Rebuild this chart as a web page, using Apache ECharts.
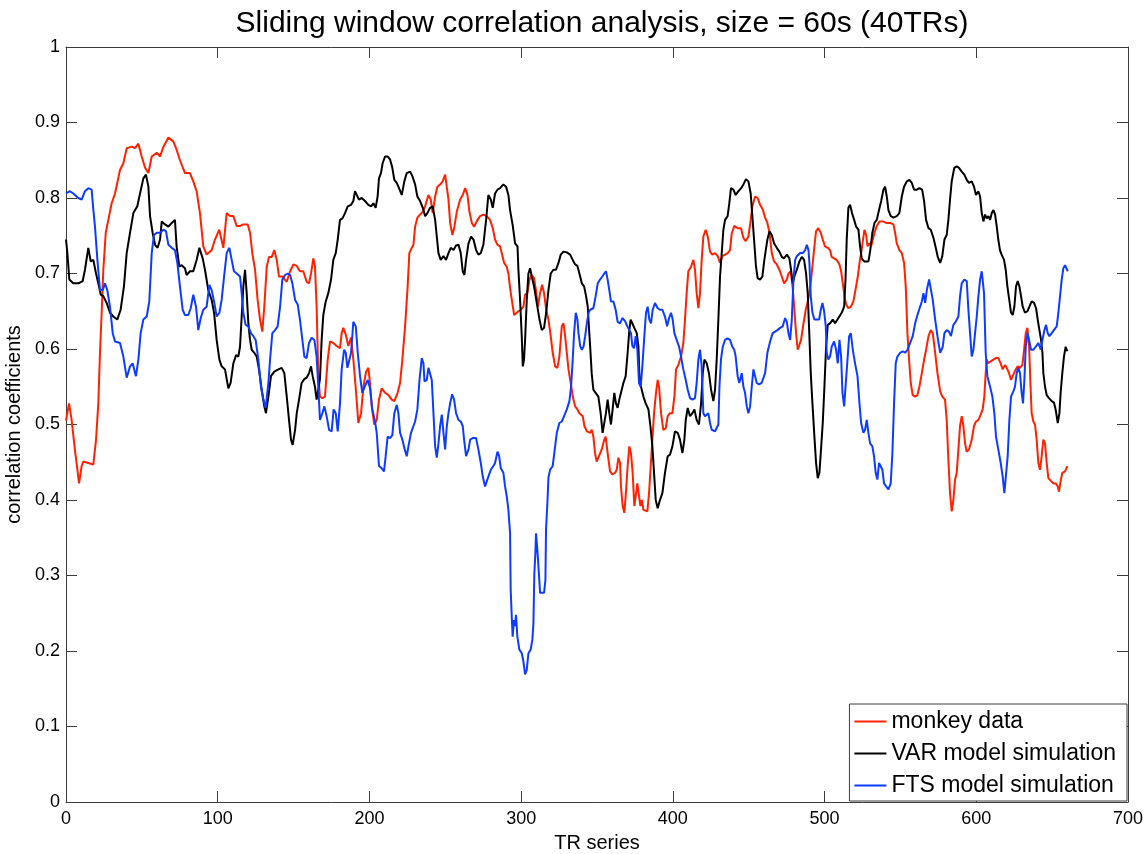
<!DOCTYPE html>
<html>
<head>
<meta charset="utf-8">
<title>Sliding window correlation analysis</title>
<script src="https://cdn.jsdelivr.net/npm/echarts@6/dist/echarts.min.js"></script>
<style>
  html, body { margin: 0; padding: 0; background: #fff; }
  #chart { width: 1148px; height: 854px; }
</style>
</head>
<body>
<div id="chart"></div>
<script>
// Sliding-window correlation coefficients, [TR, r] pairs for each series.
const monkey = [
[0,0.505],[2,0.528],[3.7,0.506],[5.9,0.466],[8.6,0.422],[10.3,0.445],[11.4,0.451],[14.7,0.449],[18,0.447],[19.8,0.48],[21.3,0.528],[22.4,0.595],[23.5,0.648],[24.6,0.705],[26.2,0.754],[27.9,0.771],[30.1,0.793],[32.3,0.806],[35.6,0.837],[37.8,0.846],[40,0.866],[43.3,0.868],[45.5,0.866],[47.7,0.872],[49.9,0.855],[52.1,0.84],[54.3,0.833],[56.5,0.855],[59.8,0.86],[62,0.855],[64.2,0.868],[67.5,0.88],[70.7,0.875],[72.9,0.864],[75.1,0.85],[78.4,0.833],[81.7,0.833],[83.9,0.822],[86.1,0.809],[88.3,0.78],[90.5,0.736],[92.7,0.725],[96,0.731],[98.2,0.745],[101,0.758],[103.7,0.734],[105.9,0.78],[108.1,0.776],[110.3,0.776],[112.5,0.763],[114.7,0.763],
[116.9,0.765],[119.8,0.765],[121.3,0.754],[122.8,0.727],[124.6,0.705],[126.3,0.665],[127.9,0.639],[129.4,0.623],[130.7,0.656],[132.3,0.709],[133.8,0.722],[135.6,0.722],[137.3,0.731],[138.9,0.718],[140.4,0.696],[142.6,0.696],[145.5,0.689],[147.7,0.703],[149.9,0.712],[152.1,0.71],[154.2,0.703],[156.4,0.703],[158.6,0.689],[160.2,0.687],[161.5,0.7],[163,0.72],[164.1,0.71],[165.2,0.656],[166.3,0.564],[167.4,0.537],[169,0.535],[170.7,0.537],[172.5,0.586],[174,0.61],[176.2,0.608],[178.4,0.604],[180.6,0.601],[181.7,0.621],[182.8,0.628],[184.4,0.619],[186.1,0.604],[187.9,0.615],[189.4,0.586],[190.9,0.55],[192.7,0.502],[194.5,0.515],[196,0.55],[197.8,0.57],[199.3,0.575],[200.4,0.555],[201.5,0.524],[203.2,0.5],[204.8,0.506],[206.3,0.533],[208.1,0.548],[210.3,0.542],[212.5,0.539],[214.7,0.533],[216.4,0.531],[218.6,0.542],[220.2,0.555],[221.7,0.586],[223.5,0.63],[225.2,0.683],[226.3,0.727],[227.9,0.734],[229,0.738],[230.1,0.762],
[231.6,0.774],[233.4,0.778],[235.2,0.782],[236.7,0.789],[238.9,0.804],[240.4,0.798],[241.7,0.78],[243.3,0.802],[244.8,0.815],[246.6,0.818],[248.3,0.822],[249.9,0.831],[251,0.829],[252.1,0.798],[253.2,0.767],[254.7,0.751],[256,0.762],[257.6,0.782],[259.8,0.798],[261.5,0.804],[263.1,0.813],[264.6,0.804],[265.9,0.782],[267.5,0.767],[269,0.762],[270.7,0.769],[272.9,0.776],[275.1,0.778],[277.3,0.776],[279.5,0.771],[281.3,0.76],[282.8,0.745],[284.4,0.738],[286.1,0.736],[287.2,0.727],[288.8,0.714],[290.5,0.709],[291.6,0.7],[292.7,0.681],[294,0.663],[295.4,0.645],[296.7,0.643],[298.2,0.65],[299.8,0.652],[301.5,0.656],[302.6,0.672],[304.1,0.674],[305.5,0.692],[307,0.698],[308.5,0.694],[309.9,0.676],[311,0.656],[312.5,0.674],[313.8,0.685],[315.1,0.674],[316.5,0.652],[318,0.639],[319.5,0.617],[320.8,0.595],[322.4,0.577],[323.9,0.575],[325.2,0.59],[326.8,0.63],[327.9,0.634],[329,0.617],[330.1,0.595],[331.2,0.573],[332.7,0.555],[334,0.537],[335.6,0.524],[337.1,0.52],[338.4,0.515],[339.3,0.517],[340.6,0.511],[341.7,0.498],[343.3,0.491],[345.5,0.489],
[346.5,0.493],[347.6,0.484],[348.7,0.462],[349.8,0.451],[351.3,0.458],[353.1,0.467],[354.8,0.48],[355.7,0.484],[357,0.462],[358.6,0.438],[360.1,0.434],[361.9,0.436],[363,0.44],[364.1,0.456],[365.2,0.449],[365.8,0.418],[366.9,0.392],[368,0.383],[368.9,0.405],[370.2,0.445],[371.3,0.471],[372.4,0.462],[373.5,0.436],[374.6,0.392],[375.5,0.405],[376.6,0.422],[377.7,0.405],[378.6,0.392],[379.5,0.4],[380.6,0.387],[381.7,0.385],[383.2,0.385],[384.3,0.409],[385.4,0.445],[386.5,0.48],[387.6,0.515],[388.9,0.542],[390,0.559],[390.9,0.55],[392.2,0.515],[393.7,0.493],[395.3,0.495],[396.6,0.511],[398.1,0.515],[399.7,0.515],[401,0.537],[402.1,0.573],[403.6,0.579],[405.4,0.59],[406.9,0.608],[408,0.639],[409.1,0.674],[410.2,0.703],[412,0.709],[413.5,0.718],[414.6,0.705],[415.7,0.674],[416.8,0.654],[417.9,0.674],[419,0.718],[420.1,0.749],[421.6,0.758],[423,0.749],[424.5,0.729],[426,0.725],[427.8,0.727],[429.6,0.723],[431.1,0.714],[432.6,0.723],[434.4,0.725],[436.1,0.727],[437.7,0.731],[438.8,0.753],[440.5,0.763],[442.7,0.76],[444.9,0.76],[446.5,0.747],[448,0.743],[449.8,0.749],[451.3,0.771],[452.4,0.789],[454.2,0.802],[455.9,0.8],[457.5,0.791],[459.2,0.785],[460.8,0.774],
[462.3,0.767],[463.7,0.754],[465.2,0.727],[466.7,0.716],[468.5,0.712],[470.2,0.705],[471.8,0.696],[473.3,0.687],[475.1,0.692],[476.2,0.7],[477.7,0.703],[479,0.681],[480.1,0.652],[481.2,0.621],[482.3,0.599],[483.4,0.597],[484.5,0.612],[486.1,0.634],[487.6,0.652],[488.9,0.663],[490,0.674],[491.1,0.692],[492.2,0.714],[493.3,0.736],[494.4,0.756],[495.9,0.76],[497.5,0.754],[498.8,0.745],[500.3,0.736],[502.1,0.734],[503.6,0.731],[504.7,0.722],[506.3,0.72],[508,0.718],[509.8,0.712],[510.9,0.703],[512,0.687],[513.1,0.67],[514.2,0.659],[515.7,0.654],[517.3,0.656],[519,0.663],[520.6,0.681],[521.9,0.696],[523,0.714],[524.1,0.727],[525.2,0.743],[526.3,0.758],[527.4,0.751],[528.3,0.736],[529.4,0.74],[530.7,0.736],[531.8,0.745],[532.9,0.754],[534.4,0.763],[536.2,0.769],[538.4,0.769],[540.6,0.767],[543.2,0.767],[545.4,0.765],[546.5,0.754],[547.6,0.74],[549.3,0.731],[550.9,0.727],[552.4,0.714],[553.5,0.683],[554.6,0.621],[555.7,0.586],[556.8,0.555],[558.1,0.539],[559.7,0.537],[561.2,0.539],[562.5,0.55],[564.1,0.568],[565.6,0.586],[566.9,0.599],[568.5,0.617],[570,0.625],[571.3,0.621],[572.9,0.595],[574.4,0.568],[576.2,0.544],
[577.6,0.537],[579.4,0.533],[580.5,0.506],[581.6,0.453],[582.7,0.409],[583.8,0.385],[584.9,0.4],[586,0.427],[587.1,0.436],[588.2,0.467],[589.3,0.498],[590.4,0.511],[591.5,0.498],[592.6,0.475],[593.7,0.464],[595.2,0.467],[597,0.48],[598.5,0.498],[599.8,0.504],[601.4,0.506],[602.9,0.513],[604.2,0.52],[605.3,0.537],[606.2,0.568],[606.9,0.586],[608,0.581],[609.7,0.584],[611.3,0.586],[612.8,0.588],[614.5,0.588],[616.1,0.581],[617.4,0.573],[619,0.579],[620.5,0.573],[621.6,0.568],[622.9,0.559],[624.4,0.566],[626,0.573],[627.3,0.577],[628.8,0.575],[630.4,0.579],[631.5,0.599],[632.6,0.621],[633.7,0.628],[634.8,0.604],[635.6,0.559],[636.5,0.515],[637.6,0.504],[638.7,0.5],[639.8,0.48],[640.9,0.449],[642,0.44],[643.1,0.458],[644.2,0.48],[645.3,0.475],[646.4,0.449],[647.5,0.429],[649.3,0.425],[650.8,0.422],[652.3,0.422],[653.7,0.418],[654.5,0.411],[655.6,0.425],[656.7,0.436],[658.5,0.438],[660,0.445]
];

const varModel = [
[0,0.745],[0.9,0.727],[2.2,0.692],[4.8,0.687],[8.1,0.687],[11,0.69],[12.5,0.705],[14.7,0.734],[16.3,0.716],[18,0.718],[19.8,0.7],[21.3,0.687],[22.9,0.672],[24.6,0.67],[26.8,0.661],[29,0.648],[31.2,0.643],[33.8,0.639],[36,0.652],[38.2,0.683],[40,0.727],[42.2,0.754],[44.4,0.78],[47,0.789],[48.8,0.806],[51,0.826],[52.7,0.831],[54.3,0.815],[55.4,0.776],[57.1,0.754],[58.7,0.738],[60.4,0.734],[62,0.745],[63.1,0.769],[65.3,0.765],[67.5,0.762],[69.7,0.767],[71.8,0.771],[72.9,0.736],[74.7,0.709],[76.2,0.711],[78.4,0.707],[79.5,0.698],[81.7,0.703],[83.9,0.703],[86.1,0.718],[87.9,0.734],[90.1,0.72],[91.6,0.705],[93.8,0.678],[96,0.665],[97.6,0.648],[99.3,0.612],[101.1,0.586],[102.6,0.577],[104.8,0.573],[107,0.548],[108.5,0.555],[110.3,0.581],[112.1,0.592],[113.6,0.59],[114.7,0.603],
[115.8,0.643],[116.9,0.683],[118,0.705],[119.1,0.674],[120.2,0.634],[121.3,0.612],[122.4,0.599],[124.1,0.595],[125.7,0.59],[127.2,0.573],[129,0.546],[130.7,0.524],[131.8,0.515],[133.4,0.537],[135.1,0.564],[137.3,0.57],[140,0.573],[142.2,0.575],[143.9,0.568],[145.5,0.537],[147,0.506],[148.3,0.48],[149.4,0.473],[151,0.493],[152.1,0.515],[153.6,0.533],[155.3,0.555],[157.1,0.56],[158.6,0.562],[160.2,0.568],[161.5,0.577],[162.6,0.564],[164.1,0.55],[165.2,0.533],[166.3,0.531],[167.4,0.56],[168.5,0.612],[169.6,0.645],[171.2,0.663],[172.9,0.674],[174.7,0.692],[176.2,0.718],[177.8,0.727],[179.1,0.745],[180.6,0.771],[182.2,0.773],[183.9,0.78],[185.7,0.789],[187.9,0.791],[189.4,0.796],[190.5,0.809],[191.6,0.807],[193.1,0.798],[194.9,0.8],[197.1,0.796],[199.3,0.791],[201.1,0.789],[202.6,0.793],[204.1,0.787],[205.4,0.802],[206.3,0.826],[207.6,0.833],[208.7,0.846],[210.3,0.855],[212,0.855],[213.6,0.851],[215.1,0.84],[216.4,0.824],[218,0.82],[219.5,0.813],[221.3,0.804],[223,0.822],[224.6,0.833],[226.8,0.835],[228.3,0.829],[230.1,0.818],
[231.6,0.802],[233.4,0.796],[235.2,0.787],[236.7,0.776],[238.2,0.78],[240,0.787],[241.7,0.789],[243.3,0.771],[244.4,0.749],[245.5,0.727],[247,0.718],[248.8,0.723],[250.5,0.718],[252.1,0.727],[253.6,0.734],[255.4,0.731],[257.1,0.737],[258.7,0.738],[260.2,0.727],[261.5,0.703],[262.6,0.698],[263.7,0.718],[265.3,0.74],[267,0.749],[268.6,0.745],[270.3,0.731],[271.8,0.725],[273.4,0.727],[275.1,0.738],[276.9,0.771],[278.4,0.804],[280,0.798],[281.3,0.787],[282.8,0.806],[284.4,0.811],[286.1,0.813],[288.3,0.818],[290.1,0.815],[291.6,0.804],[292.7,0.784],[294.5,0.763],[296,0.74],[297.6,0.736],[298.2,0.705],[299.3,0.665],[300.4,0.617],[301.1,0.577],[301.9,0.586],[302.6,0.612],[303.7,0.665],[304.8,0.7],[305.9,0.707],[307,0.696],[308.5,0.683],[310.3,0.661],[312.1,0.639],[313.6,0.625],[315.1,0.628],[316.5,0.648],[318,0.678],[319.5,0.7],[321.3,0.705],[323,0.705],[324.6,0.714],[326.1,0.725],[327.9,0.729],[330.1,0.728],[332.3,0.725],[334,0.718],[335.6,0.712],[337.1,0.71],[338.4,0.7],[340,0.687],[341.5,0.683],[342.8,0.67],[343.9,0.656],[344.8,0.625],[345.5,0.603],
[346.5,0.568],[347.6,0.546],[349.1,0.542],[350.9,0.537],[352.4,0.515],[353.7,0.489],[354.8,0.491],[355.9,0.515],[357,0.533],[358.1,0.515],[359.2,0.5],[360.3,0.52],[361.4,0.542],[362.5,0.528],[363.6,0.522],[364.7,0.533],[365.8,0.542],[367.4,0.555],[368.9,0.564],[370.2,0.595],[371.3,0.625],[372.2,0.639],[373.3,0.634],[374.6,0.628],[376.2,0.621],[377.3,0.603],[377.9,0.568],[379,0.55],[380.6,0.537],[382.1,0.528],[383.9,0.52],[385.2,0.498],[386.5,0.471],[387.6,0.436],[388.7,0.4],[390,0.389],[391.5,0.4],[393.1,0.409],[394.8,0.436],[396.6,0.458],[398.1,0.46],[399.7,0.471],[401.4,0.491],[403.2,0.489],[404.7,0.48],[406.3,0.462],[407.6,0.48],[408.5,0.506],[409.8,0.522],[411.3,0.511],[412.9,0.515],[414.2,0.52],[415.7,0.506],[417.2,0.5],[418.6,0.528],[419.7,0.568],[420.8,0.586],[422.3,0.581],[423.8,0.568],[425.2,0.546],[426.7,0.531],[427.8,0.546],[428.9,0.586],[430,0.639],[431.1,0.696],[432.2,0.727],[433.3,0.758],[434.4,0.771],[436.1,0.776],[437.2,0.793],[438.3,0.813],[439.9,0.811],[441.4,0.804],[443.2,0.809],[445,0.813],[446.5,0.818],[448.2,0.825],[449.8,0.822],[451.3,0.806],[452.4,0.776],[453.7,0.74],[454.8,0.709],[455.9,0.694],[457.5,0.692],[459,0.696],[460.3,0.718],
[462.3,0.745],[463.7,0.756],[465.2,0.751],[466.7,0.74],[468.5,0.734],[470.2,0.729],[471.8,0.722],[473.3,0.72],[475.1,0.725],[476.8,0.72],[477.9,0.705],[479,0.687],[480.1,0.696],[481.7,0.705],[483.4,0.716],[485,0.722],[486.5,0.718],[487.8,0.7],[488.9,0.674],[490,0.617],[490.9,0.568],[492,0.528],[493.3,0.484],[494.4,0.449],[495.5,0.429],[496.6,0.436],[497.5,0.462],[498.8,0.502],[499.9,0.55],[501,0.603],[502.1,0.632],[503.6,0.634],[505.4,0.639],[506.9,0.634],[508.5,0.639],[509.8,0.641],[511.3,0.648],[512.9,0.656],[513.8,0.692],[514.6,0.745],[515.7,0.787],[516.8,0.791],[518.1,0.78],[519.5,0.771],[520.8,0.762],[522.3,0.758],[523.4,0.736],[524.5,0.72],[526.1,0.716],[527.4,0.714],[528.9,0.716],[530,0.729],[531.5,0.754],[532.9,0.767],[534.4,0.771],[535.9,0.784],[537.3,0.796],[538.8,0.811],[539.9,0.815],[541,0.802],[542.1,0.784],[543.6,0.776],[545.4,0.774],[547.6,0.776],[549.3,0.78],[550.9,0.802],[552.4,0.815],[554.2,0.822],[555.9,0.824],[557.5,0.82],[559,0.811],[560.8,0.811],[562.5,0.813],[564.3,0.811],[565.6,0.796],[566.9,0.771],[568.5,0.76],[570,0.758],[571.8,0.747],[573.3,0.734],[574.6,0.722],[576.2,0.714],
[577.6,0.723],[579,0.745],[580.5,0.751],[581.6,0.771],[582.7,0.798],[583.8,0.822],[585.5,0.84],[587.1,0.842],[588.6,0.84],[590.4,0.835],[592.1,0.831],[593.7,0.824],[595.2,0.82],[597,0.822],[598.5,0.815],[599.8,0.804],[601.4,0.809],[602.5,0.802],[603.6,0.78],[604.7,0.769],[605.8,0.778],[606.9,0.773],[608,0.776],[609.1,0.771],[610.2,0.78],[611.3,0.784],[612.4,0.778],[613.5,0.762],[614.5,0.745],[615.6,0.731],[616.7,0.725],[618.3,0.718],[619.4,0.705],[620.5,0.683],[621.6,0.667],[622.9,0.648],[624,0.645],[625.1,0.656],[626.2,0.683],[627.3,0.69],[628.4,0.683],[629.5,0.67],[630.6,0.656],[632.1,0.648],[633.7,0.65],[635,0.656],[636.5,0.663],[638.1,0.661],[639.4,0.654],[640.5,0.639],[641.6,0.625],[642.7,0.612],[643.6,0.595],[644.2,0.568],[645.3,0.55],[646.4,0.539],[647.9,0.535],[649.7,0.531],[651.2,0.529],[652.3,0.52],[653.7,0.502],[654.8,0.515],[655.6,0.542],[656.7,0.568],[657.8,0.59],[658.9,0.603],[660,0.597]
];

const ftsModel = [
[0,0.806],[2.6,0.809],[4.8,0.806],[8.1,0.8],[10.3,0.798],[12.5,0.809],[14.7,0.813],[16.9,0.811],[18,0.785],[19.1,0.762],[20.7,0.718],[22.4,0.678],[24.2,0.678],[25.7,0.687],[27.2,0.678],[29,0.656],[30.8,0.621],[32.3,0.61],[35.6,0.608],[37.8,0.59],[40,0.562],[42.2,0.577],[43.9,0.581],[46.1,0.564],[47.7,0.586],[49.2,0.621],[51,0.639],[53.2,0.643],[54.9,0.663],[56.5,0.727],[58,0.751],[59.8,0.754],[62,0.754],[64.2,0.758],[65.9,0.756],[67.5,0.738],[69.7,0.734],[71.8,0.731],[73.4,0.714],[75.1,0.683],[76.9,0.652],[78.4,0.645],[80.6,0.645],[82.2,0.654],[83.9,0.672],[85.7,0.656],[87.2,0.625],[88.8,0.641],[90.5,0.652],[92.7,0.656],[94.5,0.685],[96,0.678],[97.6,0.663],[99.3,0.643],[101.1,0.648],[102.6,0.665],[104.2,0.696],[105.9,0.727],[107.7,0.734],[109.2,0.718],[110.7,0.703],[112.5,0.7],[114.7,0.696],
[115.8,0.674],[116.9,0.648],[118.4,0.632],[120.2,0.63],[121.9,0.621],[123.5,0.617],[125,0.612],[126.8,0.586],[128.5,0.55],[130.1,0.533],[131.6,0.522],[133.4,0.555],[134.5,0.586],[136,0.621],[137.8,0.625],[139.5,0.63],[141.1,0.656],[142.6,0.692],[144.4,0.698],[146.1,0.7],[147.7,0.698],[149.2,0.687],[151,0.665],[152.7,0.659],[154.2,0.639],[155.8,0.612],[157.1,0.59],[158.6,0.588],[160.2,0.608],[161.9,0.615],[163.7,0.612],[165.2,0.59],[166.3,0.55],[167.4,0.506],[169,0.515],[170.3,0.524],[171.8,0.511],[173.4,0.493],[175.1,0.491],[176.4,0.52],[177.8,0.515],[179.1,0.491],[180.6,0.528],[181.7,0.573],[183.3,0.599],[184.4,0.595],[185.5,0.575],[186.5,0.573],[187.9,0.595],[189.4,0.636],[191,0.63],[192.3,0.595],[193.8,0.564],[195.3,0.542],[197.1,0.551],[198.9,0.559],[200.4,0.548],[201.9,0.52],[203.7,0.504],[204.8,0.489],[206.3,0.445],[208.1,0.442],[209.6,0.438],[210.7,0.458],[212,0.484],[213.6,0.482],[215.1,0.486],[216.4,0.515],[218,0.526],[219.1,0.515],[220.2,0.489],[221.7,0.48],[223,0.469],[224.6,0.458],[225.7,0.471],[227.4,0.489],[229,0.498],[230.1,0.504],
[231.6,0.52],[233,0.559],[234.5,0.588],[235.6,0.581],[236.3,0.557],[237.8,0.559],[238.9,0.575],[240,0.577],[241.1,0.559],[242.2,0.515],[243.3,0.471],[244.4,0.456],[245.5,0.475],[246.6,0.498],[247.7,0.513],[248.8,0.489],[249.9,0.467],[251,0.498],[252.1,0.515],[253.2,0.528],[254.5,0.54],[255.8,0.533],[257.1,0.515],[258.7,0.506],[260.2,0.504],[261.5,0.498],[262.4,0.48],[263.7,0.458],[265.3,0.467],[266.4,0.48],[268.1,0.482],[270.3,0.482],[271.8,0.467],[273.4,0.449],[274.7,0.431],[276.2,0.418],[277.3,0.418],[278.4,0.431],[280,0.44],[281.7,0.445],[282.8,0.449],[284.4,0.464],[285.5,0.458],[286.6,0.442],[288.3,0.436],[289.4,0.418],[290.5,0.405],[291.6,0.387],[292.7,0.356],[293.1,0.281],[293.8,0.246],[294.4,0.219],[295.3,0.241],[296,0.233],[296.6,0.248],[297.5,0.219],[298.8,0.202],[300.4,0.197],[301.5,0.186],[302.6,0.169],[303.7,0.175],[304.8,0.197],[306.3,0.202],[307.4,0.215],[308.1,0.237],[308.7,0.303],[309.4,0.33],[309.8,0.356],[310.7,0.334],[311.4,0.312],[312.5,0.277],[313.6,0.275],[315.1,0.277],[316,0.294],[316.4,0.361],[317.3,0.396],[318,0.43],[319.1,0.44],[320.8,0.445],[322.4,0.471],[323.5,0.489],[325.2,0.502],[326.8,0.504],[328.3,0.511],[330.1,0.52],[331.8,0.531],[332.9,0.55],[334,0.586],[334.9,0.621],[336,0.648],[337.1,0.639],[337.8,0.621],[338.9,0.604],[340,0.599],[341.1,0.603],[342.2,0.617],[343.3,0.634],[344.4,0.648],[345.5,0.652],
[347.6,0.654],[349.1,0.67],[350.5,0.687],[352,0.692],[353.5,0.696],[354.8,0.7],[355.9,0.703],[357,0.692],[358.1,0.678],[359.2,0.663],[360.8,0.663],[362.3,0.652],[363.6,0.636],[365.2,0.634],[366.7,0.641],[368.5,0.637],[370,0.63],[371.3,0.632],[372.4,0.621],[373.3,0.604],[374.4,0.601],[375.5,0.617],[376.6,0.599],[377.7,0.555],[378.8,0.55],[379.9,0.577],[381.2,0.617],[382.3,0.648],[383.4,0.656],[384.5,0.639],[385.6,0.634],[386.7,0.652],[388.2,0.661],[390,0.654],[391.5,0.652],[393.1,0.652],[394.8,0.643],[396.2,0.63],[397.5,0.641],[398.8,0.648],[399.9,0.639],[401,0.621],[402.5,0.612],[404.1,0.603],[405.4,0.59],[406.9,0.573],[408.5,0.559],[409.8,0.546],[411.3,0.535],[412.9,0.533],[414.6,0.535],[415.7,0.555],[416.8,0.586],[417.9,0.599],[419,0.577],[420.1,0.515],[421.2,0.511],[422.3,0.513],[423.4,0.515],[424.5,0.502],[425.6,0.493],[426.7,0.495],[427.8,0.491],[428.9,0.489],[430,0.5],[430.7,0.55],[431.7,0.586],[432.9,0.603],[434.4,0.612],[436.1,0.614],[437.7,0.612],[439.2,0.603],[440.5,0.599],[441.4,0.59],[442.7,0.564],[443.8,0.555],[445.4,0.568],[446.5,0.55],[447.6,0.542],[448.7,0.524],[449.8,0.515],[450.9,0.524],[452,0.55],[453.1,0.573],[454.2,0.573],[455.3,0.555],[456.8,0.553],[458.5,0.555],[460.8,0.568],
[462.3,0.595],[464.1,0.61],[465.8,0.621],[467.4,0.623],[468.9,0.625],[470.7,0.628],[472.4,0.63],[474,0.641],[475.1,0.636],[476.2,0.621],[477.3,0.612],[478.4,0.639],[479.5,0.692],[480.6,0.718],[481.7,0.723],[482.8,0.721],[483.9,0.727],[485.6,0.727],[487.2,0.731],[488.3,0.738],[489.4,0.731],[490,0.714],[490.9,0.67],[492,0.648],[493.3,0.639],[494.9,0.639],[496.4,0.639],[497.5,0.652],[498.6,0.661],[499.7,0.65],[500.8,0.63],[501.4,0.595],[502.5,0.586],[503.6,0.59],[504.7,0.603],[506.3,0.61],[507.6,0.599],[508.7,0.581],[509.8,0.612],[510.9,0.59],[511.8,0.542],[512.9,0.524],[514,0.524],[515.1,0.586],[516.2,0.617],[517.3,0.621],[518.6,0.599],[520.1,0.581],[521.7,0.564],[523,0.528],[524.1,0.502],[525.6,0.489],[526.7,0.493],[527.8,0.506],[528.9,0.489],[530,0.475],[531.5,0.471],[532.6,0.458],[533.7,0.436],[534.8,0.427],[535.9,0.449],[537,0.449],[538.1,0.44],[539.2,0.422],[540.6,0.418],[542.1,0.414],[543.6,0.422],[544.7,0.462],[545.8,0.528],[546.9,0.581],[548,0.59],[549.8,0.595],[551.5,0.597],[553.1,0.595],[554.6,0.599],[556.4,0.608],[558.1,0.617],[559.7,0.634],[561.2,0.645],[562.5,0.643],[564.1,0.663],[565.2,0.674],[566.3,0.661],[567.4,0.678],[568.9,0.692],[570,0.69],[571.3,0.665],[572.9,0.639],[574.4,0.617],[576.2,0.595],
[577.9,0.603],[579,0.621],[580.5,0.625],[582,0.623],[583.3,0.617],[584.9,0.632],[586.4,0.636],[588.2,0.643],[589.3,0.67],[590.4,0.687],[592.1,0.692],[593.7,0.69],[594.8,0.652],[595.9,0.621],[597,0.59],[598.1,0.599],[599.2,0.621],[600.3,0.643],[601.4,0.67],[602.5,0.692],[603.6,0.703],[604.2,0.705],[605.1,0.674],[606.2,0.595],[607.3,0.564],[609.1,0.55],[610.6,0.537],[611.9,0.515],[613,0.484],[614.5,0.467],[616.1,0.449],[617.4,0.431],[618.5,0.409],[619.6,0.409],[620.7,0.458],[621.8,0.506],[622.9,0.537],[624.4,0.544],[625.5,0.55],[626.6,0.568],[627.7,0.575],[628.8,0.568],[629.9,0.542],[630.8,0.528],[631.7,0.559],[632.6,0.603],[633.7,0.621],[634.8,0.612],[636.1,0.599],[637.6,0.599],[639.2,0.603],[640.9,0.608],[642.5,0.599],[643.6,0.612],[644.9,0.625],[646,0.632],[647.1,0.621],[648.2,0.617],[649.7,0.621],[651.5,0.626],[653,0.63],[654.1,0.648],[655.2,0.67],[656.3,0.692],[657.4,0.707],[658.5,0.711],[659.6,0.709],[660.3,0.703]
];

const seriesNames = ['monkey data', 'VAR model simulation', 'FTS model simulation'];
const seriesColors = ['#ff2200', '#000000', '#0d3bff'];
const xTicks = [0, 100, 200, 300, 400, 500, 600, 700];
const yTicks = [0, 0.1, 0.2, 0.3, 0.4, 0.5, 0.6, 0.7, 0.8, 0.9, 1];

const FONT = "'Liberation Sans', Arial, Helvetica, sans-serif";
const AXIS_COLOR = '#3c3c3c';

const xMin = xTicks[0], xMax = xTicks[xTicks.length - 1], xStep = xTicks[1] - xTicks[0];
const yMin = yTicks[0], yMax = yTicks[yTicks.length - 1], yStep = 0.1;

const fmtY = v => String(+v.toFixed(1));

function boxAxis(extra) {
  return Object.assign({
    type: 'value',
    axisLine: { show: true, onZero: false, lineStyle: { color: AXIS_COLOR, width: 1 } },
    axisTick: { show: true, inside: true, length: 11, lineStyle: { color: AXIS_COLOR, width: 1 } },
    splitLine: { show: false },
  }, extra);
}

const chart = echarts.init(document.getElementById('chart'), null, { renderer: 'canvas' });

chart.setOption({
  animation: false,
  backgroundColor: '#ffffff',
  title: {
    text: 'Sliding window correlation analysis, size = 60s (40TRs)',
    left: 597,
    top: 4,
    textAlign: 'center',
    textStyle: { fontFamily: FONT, fontSize: 30, fontWeight: 'normal', color: '#000' }
  },
  grid: { left: 66, top: 47, right: 20, bottom: 52, containLabel: false, outerBoundsMode: 'none' },
  xAxis: [
    boxAxis({
      position: 'bottom', min: xMin, max: xMax, interval: xStep,
      name: 'TR series', nameLocation: 'middle', nameGap: 31,
      nameTextStyle: { fontFamily: FONT, fontSize: 20, color: '#000' },
      axisLabel: { show: true, margin: 8, fontFamily: FONT, fontSize: 18, color: '#000' }
    }),
    boxAxis({
      position: 'top', min: xMin, max: xMax, interval: xStep,
      axisLabel: { show: false }
    })
  ],
  yAxis: [
    boxAxis({
      position: 'left', min: yMin, max: yMax, interval: yStep,
      name: 'correlation coefficients', nameLocation: 'middle', nameGap: 38,
      nameTextStyle: { fontFamily: FONT, fontSize: 20, color: '#000' },
      axisLabel: { show: true, margin: 6, fontFamily: FONT, fontSize: 18, color: '#000', formatter: fmtY }
    }),
    boxAxis({
      position: 'right', min: yMin, max: yMax, interval: yStep,
      axisLabel: { show: false }
    })
  ],
  legend: {
    data: seriesNames,
    orient: 'vertical',
    right: 21,
    bottom: 53,
    padding: [6, 11, 4, 5],
    itemGap: 9,
    itemWidth: 32,
    itemHeight: 2,
    icon: 'rect',
    backgroundColor: '#ffffff',
    borderColor: AXIS_COLOR,
    borderWidth: 1,
    borderRadius: 0,
    textStyle: { fontFamily: FONT, fontSize: 23, color: '#000' },
    selectedMode: false
  },
  series: [monkey, varModel, ftsModel].map((data, i) => ({
    name: seriesNames[i],
    type: 'line',
    xAxisIndex: 0,
    yAxisIndex: 0,
    data: data,
    showSymbol: false,
    symbol: 'none',
    smooth: false,
    clip: true,
    itemStyle: { color: seriesColors[i] },
    lineStyle: { color: seriesColors[i], width: 2 },
    emphasis: { disabled: true }
  }))
});
</script>
</body>
</html>
